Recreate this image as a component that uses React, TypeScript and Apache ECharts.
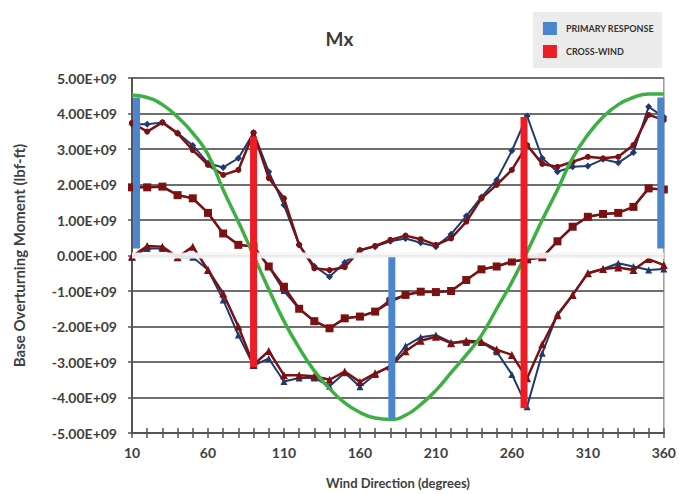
import React, { useEffect, useRef } from "react";
import * as echarts from "echarts";

// Wind direction (degrees)
const directions = [10, 20, 30, 40, 50, 60, 70, 80, 90, 100, 110, 120, 130, 140, 150, 160, 170, 180,
  190, 200, 210, 220, 230, 240, 250, 260, 270, 280, 290, 300, 310, 320, 330, 340, 350, 360];

// Values in units of 1E+09 lbf-ft
const upperBlue = [3.7, 3.7, 3.75, 3.45, 3.1, 2.6, 2.48, 2.74, 3.46, 2.36, 1.42, 0.3, -0.3, -0.6, -0.2, 0.15, 0.25, 0.4,
  0.48, 0.36, 0.25, 0.6, 1.11, 1.65, 2.13, 2.95, 3.93, 2.74, 2.36, 2.5, 2.52, 2.71, 2.61, 2.9, 4.19, 3.9];
const upperRed = [3.74, 3.49, 3.75, 3.44, 2.97, 2.55, 2.27, 2.41, 3.46, 2.18, 1.61, 0.3, -0.36, -0.41, -0.33, 0.15, 0.27, 0.44,
  0.56, 0.46, 0.3, 0.48, 0.95, 1.61, 1.99, 2.41, 3.11, 2.58, 2.5, 2.64, 2.78, 2.74, 2.78, 3.11, 3.96, 3.82];
const meanBlue = [1.92, 1.92, 1.94, 1.7, 1.61, 1.2, 0.62, 0.3, 0.25, -0.31, -1.0, -1.5, -1.85, -2.05, -1.77, -1.72, -1.58, -1.25,
  -1.11, -1.02, -1.03, -1.0, -0.69, -0.39, -0.31, -0.17, -0.11, -0.05, 0.4, 0.81, 1.09, 1.17, 1.2, 1.37, 1.89, 1.86];
const meanRed = [1.92, 1.92, 1.94, 1.7, 1.61, 1.2, 0.62, 0.3, 0.25, -0.31, -0.88, -1.5, -1.85, -2.05, -1.77, -1.72, -1.58, -1.3,
  -1.11, -1.02, -1.03, -1.0, -0.69, -0.39, -0.31, -0.17, -0.11, -0.05, 0.4, 0.81, 1.09, 1.17, 1.2, 1.37, 1.89, 1.86];
const lowerBlue = [-0.05, 0.2, 0.2, -0.05, -0.05, -0.4, -1.25, -2.24, -3.1, -2.9, -3.55, -3.45, -3.45, -3.68, -3.3, -3.7, -3.35, -3.1,
  -2.55, -2.3, -2.24, -2.45, -2.45, -2.45, -2.71, -3.35, -4.26, -2.75, -1.65, -1.11, -0.5, -0.38, -0.22, -0.31, -0.41, -0.38];
const lowerRed = [-0.03, 0.27, 0.25, -0.05, 0.25, -0.41, -1.07, -2.0, -3.08, -2.69, -3.37, -3.37, -3.4, -3.5, -3.27, -3.56, -3.32, -3.13,
  -2.7, -2.4, -2.29, -2.47, -2.4, -2.43, -2.65, -2.8, -3.46, -2.5, -1.68, -1.11, -0.5, -0.38, -0.34, -0.41, -0.1, -0.27];
const greenCurve = [4.52, 4.45, 4.25, 3.9, 3.45, 2.85, 1.85, 0.95, 0.0, -0.95, -1.85, -2.6, -3.25, -3.75, -4.15, -4.42, -4.58, -4.62,
  -4.5, -4.2, -3.8, -3.3, -2.8, -2.25, -1.5, -0.75, 0.1, 1.0, 1.85, 2.75, 3.4, 3.9, 4.25, 4.45, 4.55, 4.55];

// Vertical bars
const primaryX = [13, 181, 358];
const primaryFrom = [0.2, -0.05, 0.2];
const primaryTo = [4.45, -4.6, 4.45];
const crossX = [90, 268];
const crossFrom = [3.35, 3.9];
const crossTo = [-3.15, -4.3];

const FONT = "Lato, 'Open Sans', sans-serif";
const BLUE_LINE = "#1f3a6e";
const RED_LINE = "#7b1113";
const PRIMARY = "#4a86cf";
const CROSS = "#ee1c24";

const pair = (ys: number[]) => directions.map((d, i) => [d, ys[i]]);

export default function App() {
  const ref = useRef<HTMLDivElement>(null);
  useEffect(() => {
    if (!ref.current) return;
    const chart = echarts.init(ref.current, undefined, { renderer: "svg" });

    const dataLine = (name: string, ys: number[], color: string, width: number, symbol: string, size: number, z: number) => ({
      name,
      type: "line",
      data: pair(ys),
      symbol,
      symbolSize: size,
      lineStyle: { color, width },
      itemStyle: { color, borderWidth: 0 },
      z,
      emphasis: { disabled: true },
    });

    const bar = (name: string, x: number, from: number, to: number, color: string) => ({
      name,
      type: "line",
      data: [[x, from], [x, to]],
      symbol: "none",
      lineStyle: { color, width: 7, cap: "butt" },
      itemStyle: { color },
      z: 10,
      emphasis: { disabled: true },
    });

    const series: any[] = [
      dataLine("Max primary", upperBlue, BLUE_LINE, 2, "diamond", 7, 2),
      dataLine("Mean primary", meanBlue, BLUE_LINE, 2, "rect", 6, 2),
      dataLine("Min primary", lowerBlue, BLUE_LINE, 2, "triangle", 7, 2),
      dataLine("Max cross", upperRed, RED_LINE, 2.5, "circle", 6, 3),
      dataLine("Mean cross", meanRed, RED_LINE, 2.5, "rect", 8, 3),
      dataLine("Min cross", lowerRed, RED_LINE, 2.5, "triangle", 8, 3),
      {
        name: "zero band",
        type: "line",
        data: [[10, 0], [360, 0]],
        symbol: "none",
        lineStyle: { color: "rgba(245,245,245,0.92)", width: 6 },
        z: 4,
        silent: true,
      },
      {
        name: "Reference",
        type: "line",
        data: pair(greenCurve),
        smooth: true,
        symbol: "none",
        lineStyle: { color: "#3cb043", width: 3.5 },
        itemStyle: { color: "#3cb043" },
        z: 5,
      },
    ];
    primaryX.forEach((x, i) => series.push(bar("PRIMARY RESPONSE", x, primaryFrom[i], primaryTo[i], PRIMARY)));
    crossX.forEach((x, i) => series.push(bar("CROSS-WIND", x, crossFrom[i], crossTo[i], CROSS)));

    const xBase = {
      type: "value",
      min: 10,
      max: 360,
      interval: 50,
      position: "bottom",
      splitLine: { show: false },
    };

    chart.setOption({
      animation: false,
      backgroundColor: "#ffffff",
      title: {
        text: "Mx",
        left: "center",
        top: 24,
        textStyle: { fontFamily: FONT, fontSize: 19, fontWeight: "bold", color: "#3a3a3a" },
      },
      legend: {
        right: 17,
        top: 12,
        orient: "vertical",
        backgroundColor: "#ececec",
        padding: [10, 8, 10, 10],
        itemGap: 10,
        itemWidth: 14,
        itemHeight: 13,
        selectedMode: false,
        data: [
          { name: "PRIMARY RESPONSE", icon: "rect" },
          { name: "CROSS-WIND", icon: "rect" },
        ],
        textStyle: { fontFamily: FONT, fontSize: 9, fontWeight: "bold", color: "#333", padding: [0, 0, 0, 4] },
      },
      grid: {
        left: 132,
        right: 15,
        top: 78,
        bottom: 61,
        show: true,
        borderColor: "#9a9a9a",
        borderWidth: 1.5,
      },
      xAxis: [
        {
          ...xBase,
          name: "Wind Direction (degrees)",
          nameLocation: "middle",
          nameGap: 43,
          nameTextStyle: { fontFamily: FONT, fontSize: 13, fontWeight: "bold", color: "#404040" },
          axisLine: { show: true, onZero: false, lineStyle: { color: "#555", width: 2 } },
          axisTick: { show: true, length: 5, lineStyle: { color: "#555", width: 1.5 } },
          minorTick: { show: true, splitNumber: 5, length: 5, lineStyle: { color: "#555", width: 1.5 } },
          axisLabel: { margin: 12, fontFamily: FONT, fontSize: 14, fontWeight: "bold", color: "#404040" },
        },
        {
          ...xBase,
          axisLine: { show: false, onZero: false },
          axisTick: { show: true, inside: true, length: 5, lineStyle: { color: "#555", width: 1.5 } },
          minorTick: { show: true, splitNumber: 5, length: 5, lineStyle: { color: "#555", width: 1.5 } },
          axisLabel: { show: false },
        },
      ],
      yAxis: {
        type: "value",
        min: -5,
        max: 5,
        interval: 1,
        name: "Base Overturning Moment (lbf-ft)",
        nameLocation: "middle",
        nameGap: 106,
        nameTextStyle: { fontFamily: FONT, fontSize: 15, fontWeight: "bold", color: "#404040" },
        axisLine: { show: true, lineStyle: { color: "#555", width: 2 } },
        axisTick: { show: true, length: 4, lineStyle: { color: "#555", width: 1.5 } },
        splitLine: { show: true, lineStyle: { color: "#6e6e6e", width: 2 } },
        axisLabel: {
          margin: 15,
          fontFamily: FONT,
          fontSize: 14,
          fontWeight: "bold",
          color: "#404040",
          formatter: (v: number) => (v === 0 ? "0.00E+00" : (v < 0 ? "-" : "") + Math.abs(v).toFixed(2) + "E+09"),
        },
      },
      series,
    });
    return () => chart.dispose();
  }, []);
  return <div ref={ref} style={{ position: "fixed", left: 0, top: 0, width: 679, height: 494 }} />;
}
